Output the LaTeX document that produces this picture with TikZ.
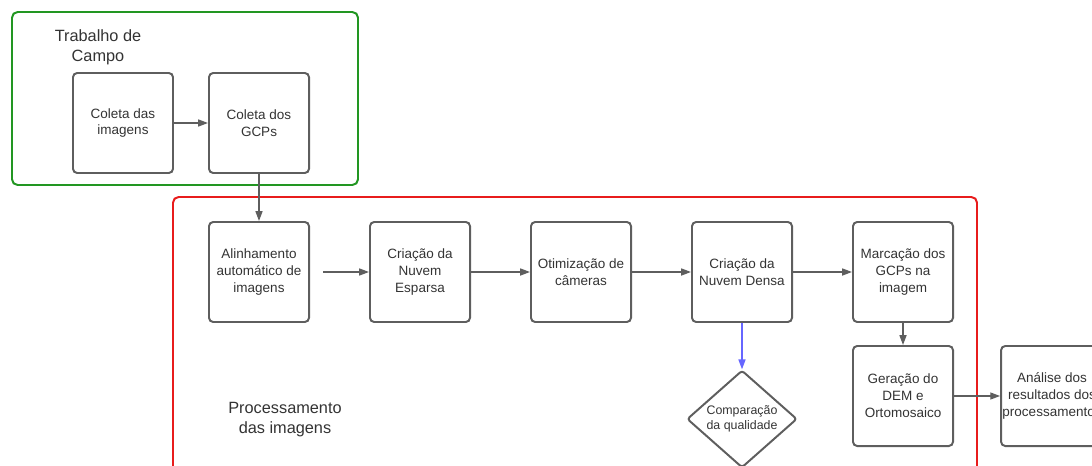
\documentclass[tikz,border=0pt]{standalone}
\usepackage{fontspec}
\setmainfont{Liberation Sans}
\usetikzlibrary{shapes.geometric, arrows.meta}

\definecolor{boxgray}{RGB}{94,94,94}
\definecolor{textgray}{RGB}{51,51,51}
\definecolor{campogreen}{RGB}{34,150,34}
\definecolor{procred}{RGB}{232,28,28}
\definecolor{linkblue}{RGB}{102,102,255}

\begin{document}
\begin{tikzpicture}[x=0.025cm, y=-0.025cm,
  etapa/.style={draw=boxgray, line width=1.4pt, rounded corners=3pt, minimum width=2.5cm, minimum height=2.5cm, inner sep=1pt, align=center, text=textgray, font=\fontsize{9.6}{12}\selectfont},
  decisao/.style={diamond, draw=boxgray, line width=1.4pt, rounded corners=2pt, minimum width=2.75cm, minimum height=2.35cm, inner sep=0pt, align=center, text=textgray, font=\fontsize{8.8}{10.7}\selectfont},
  titulo/.style={align=center, text=textgray, font=\fontsize{11.6}{14.2}\selectfont},
  seta/.style={-{Triangle[length=7pt,width=5pt]}, draw=boxgray, line width=1pt},
  grupo/.style={line width=1.4pt, rounded corners=4pt}]
\clip (0,0) rectangle (1092,466);

% grupos
\draw[grupo, campogreen] (12,12) rectangle (358,185);
\draw[grupo, procred] (173,197) rectangle (977,520);
\node[titulo] (campo) at (98,47) {Trabalho de\\Campo};
\node[titulo] (proc) at (285,420) {Processamento\\das imagens};

% trabalho de campo
\node[etapa] (coleta) at (123,123) {Coleta das\\imagens};
\node[etapa] (gcps) at (259,123) {Coleta dos\\GCPs};

% processamento
\node[etapa] (alinha) at (259,272) {Alinhamento\\automático de\\imagens};
\node[etapa] (esparsa) at (420,272) {Criação da\\Nuvem\\Esparsa};
\node[etapa] (otim) at (581,272) {Otimização de\\câmeras};
\node[etapa] (densa) at (742,272) {Criação da\\Nuvem Densa};
\node[etapa] (marca) at (903,272) {Marcação dos\\GCPs na\\imagem};
\node[etapa] (dem) at (903,396) {Geração do\\DEM e\\Ortomosaico};
\node[decisao] (compara) at (742,419) {Comparação\\da qualidade};
\node[etapa] (analise) at (1052,396) {Análise dos\\resultados dos\\processamentos};

% setas
\draw[seta] (coleta) -- (gcps);
\draw[seta] (gcps) -- (alinha);
\draw[seta, shorten <=0.325cm] (alinha) -- (esparsa);
\draw[seta] (esparsa) -- (otim);
\draw[seta] (otim) -- (densa);
\draw[seta] (densa) -- (marca);
\draw[seta] (marca) -- (dem);
\draw[seta] (dem) -- (analise);
\draw[seta, draw=linkblue, -{Triangle[length=7pt,width=5pt,fill=linkblue]}] (densa) -- (compara);
\end{tikzpicture}
\end{document}
